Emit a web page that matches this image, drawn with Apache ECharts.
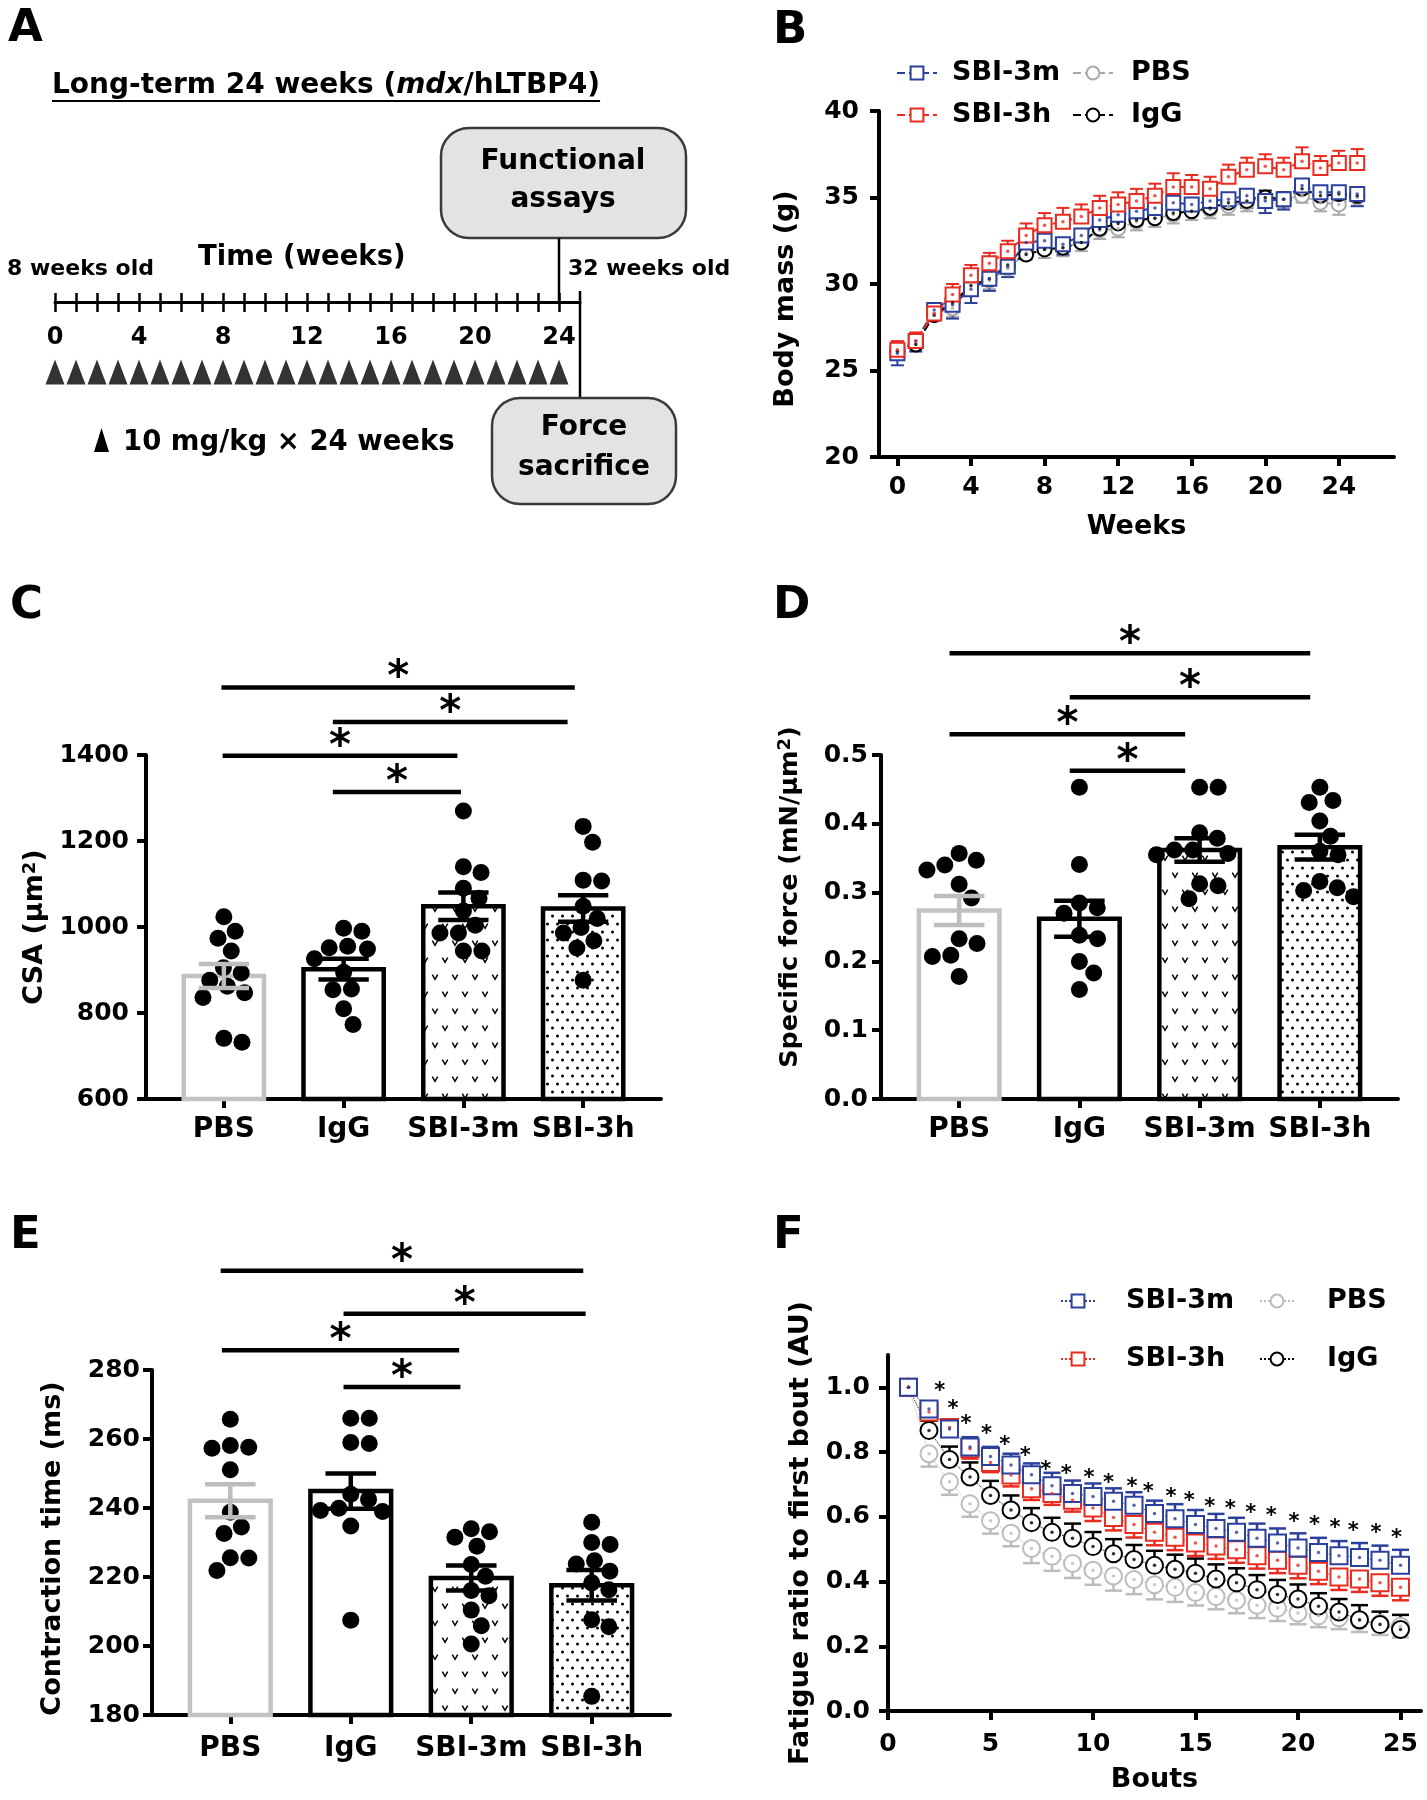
<!DOCTYPE html>
<html><head><meta charset="utf-8">
<script src="https://cdn.jsdelivr.net/npm/echarts@6/dist/echarts.min.js"></script>
<style>html,body{margin:0;padding:0;background:#fff}#c{width:1427px;height:1800px}</style>
</head><body><div id="c"></div>
<script>
const FONT = '"DejaVu Sans", "Liberation Sans", Arial, sans-serif';

// ---------- Panel A (timeline) ----------
const timelineTicks = [0,1,2,3,4,5,6,7,8,9,10,11,12,13,14,15,16,17,18,19,20,21,22,23,24];
const timelineLabels = [0,4,8,12,16,20,24];
const doseWeeks = [0,1,2,3,4,5,6,7,8,9,10,11,12,13,14,15,16,17,18,19,20,21,22,23,24];

// ---------- Panel B (body mass) ----------
const bWeeks = [0,1,2,3,4,5,6,7,8,9,10,11,12,13,14,15,16,17,18,19,20,21,22,23,24,25];
const bTicks = [0,4,8,12,16,20,24];
const bSBI3m = [26.0,26.7,28.5,28.8,29.7,30.3,31.0,32.4,32.5,32.3,32.8,33.7,34.0,34.2,34.4,34.7,34.6,34.8,34.9,35.1,34.8,34.9,35.7,35.3,35.3,35.2];
const bSBI3mSem = [0.7,0.6,0.6,0.8,0.8,0.7,0.6,0.6,0.6,0.6,0.6,0.6,0.6,0.6,0.6,0.7,0.6,0.6,0.6,0.7,0.7,0.6,0.6,0.6,0.7,0.7];
const bSBI3h = [26.2,26.7,28.3,29.4,30.5,31.2,31.9,32.8,33.4,33.6,33.9,34.4,34.6,34.8,35.1,35.6,35.6,35.5,36.2,36.6,36.8,36.6,37.1,36.7,37.0,37.0];
const bSBI3hSem = [0.5,0.5,0.5,0.6,0.6,0.6,0.6,0.7,0.7,0.8,0.7,0.7,0.7,0.7,0.7,0.8,0.7,0.7,0.7,0.7,0.7,0.7,0.8,0.7,0.7,0.8];
const bPBS = [26.1,26.6,28.3,28.6,30.0,30.2,30.9,31.8,32.0,32.1,32.4,33.1,33.2,33.6,33.8,34.0,34.2,34.3,34.5,34.7,34.9,34.9,35.1,34.7,34.6,35.0];
const bPBSSem = [0.5,0.5,0.4,0.5,0.4,0.5,0.5,0.4,0.5,0.5,0.5,0.5,0.5,0.5,0.5,0.5,0.5,0.5,0.5,0.5,0.5,0.5,0.4,0.5,0.6,0.5];
const bIgG = [26.1,26.5,28.2,28.9,29.9,30.3,31.1,31.7,32.0,32.1,32.4,33.2,33.5,33.7,33.8,34.1,34.2,34.4,34.7,34.8,35.0,34.9,35.5,35.1,35.2,35.1];
const bIgGSem = [0.4,0.4,0.3,0.4,0.4,0.4,0.4,0.4,0.4,0.3,0.4,0.4,0.4,0.4,0.4,0.4,0.4,0.4,0.4,0.4,0.4,0.4,0.5,0.4,0.4,0.4];

// ---------- Bar panels ----------
const barCats = ['PBS','IgG','SBI-3m','SBI-3h'];
const barPos = [0,1,2,3];

const cPBS = [1024,990,974,944,905,893,876,862,847,836,741,732];
const cIgG = [997,990,955,952,949,926,895,856,854,810,773];
const cSBI3m = [1270,1140,1127,1090,1067,1037,1004,986,986,944,944];
const cSBI3h = [1234,1197,1109,1107,1048,1020,999,986,968,951,876];
const cMeans = [886,902,1048,1043];
const cSems = [28,24,32,31];
const cSig = [[-0.02,2.93,1557],[0.91,2.87,1477],[-0.01,1.95,1398],[0.91,1.98,1314]];

const dPBS = [0.357,0.347,0.340,0.333,0.312,0.292,0.233,0.226,0.209,0.207,0.178];
const dIgG = [0.453,0.341,0.285,0.278,0.270,0.238,0.233,0.200,0.183,0.159];
const dSBI3m = [0.453,0.453,0.387,0.379,0.362,0.362,0.357,0.355,0.313,0.310,0.291];
const dSBI3h = [0.453,0.434,0.431,0.404,0.382,0.360,0.355,0.316,0.307,0.303,0.294];
const dMeans = [0.274,0.262,0.362,0.366];
const dSems = [0.021,0.026,0.017,0.018];
const dSig = [[-0.08,2.92,0.648],[0.92,2.92,0.584],[-0.08,1.88,0.530],[0.92,1.88,0.477]];

const ePBS = [265.7,258.1,257.6,257.3,251.1,238.8,234.5,232.6,225.6,225.5,221.9];
const eIgG = [266.0,266.0,259.0,258.7,244.0,242.5,239.9,239.3,239.0,234.8,207.5];
const eSBI3m = [234.0,233.1,231.5,228.9,223.6,220.2,216.1,214.6,210.4,205.9,200.6];
const eSBI3h = [235.9,230.0,229.4,224.7,223.8,221.7,218.3,216.3,207.6,205.6,185.4];
const eMeans = [242.1,244.9,219.7,217.6];
const eSems = [4.8,5.1,3.6,4.4];
const eSig = [[-0.08,2.93,308.8],[0.94,2.95,296.3],[-0.07,1.9,285.7],[0.94,1.91,275.1]];

// ---------- Panel F (fatigue) ----------
const fBouts = [1,2,3,4,5,6,7,8,9,10,11,12,13,14,15,16,17,18,19,20,21,22,23,24,25];
const fTicks = [0,5,10,15,20,25];
const fYTicks = [0,0.2,0.4,0.6,0.8,1.0];
const fSBI3m = [1.0,0.933,0.871,0.816,0.786,0.760,0.730,0.696,0.672,0.663,0.648,0.636,0.610,0.594,0.576,0.564,0.552,0.534,0.519,0.504,0.490,0.480,0.474,0.466,0.450];
const fSBI3mSem = [0,0.02,0.025,0.03,0.03,0.035,0.035,0.04,0.04,0.04,0.04,0.04,0.04,0.045,0.045,0.045,0.045,0.045,0.045,0.045,0.045,0.045,0.045,0.045,0.048];
const fSBI3h = [1.0,0.924,0.876,0.810,0.768,0.729,0.687,0.672,0.651,0.627,0.598,0.576,0.552,0.537,0.519,0.510,0.498,0.480,0.466,0.450,0.432,0.414,0.408,0.396,0.382];
const fSBI3hSem = [0,0.02,0.025,0.03,0.03,0.035,0.035,0.035,0.035,0.04,0.04,0.04,0.04,0.04,0.04,0.04,0.04,0.04,0.04,0.04,0.04,0.04,0.04,0.04,0.04];
const fIgG = [1.0,0.867,0.777,0.723,0.666,0.621,0.582,0.552,0.534,0.508,0.486,0.468,0.450,0.438,0.426,0.408,0.396,0.375,0.360,0.346,0.324,0.306,0.282,0.267,0.252];
const fIgGSem = [0,0.03,0.04,0.045,0.045,0.045,0.045,0.045,0.045,0.045,0.045,0.045,0.045,0.045,0.045,0.045,0.045,0.045,0.045,0.045,0.04,0.04,0.045,0.04,0.045];
const fPBS = [1.0,0.795,0.708,0.640,0.588,0.549,0.502,0.478,0.456,0.435,0.417,0.406,0.390,0.382,0.366,0.354,0.342,0.327,0.318,0.303,0.294,0.288,0.279,0.270,0.262];
const fPBSSem = [0,0.04,0.04,0.04,0.04,0.04,0.045,0.045,0.045,0.045,0.045,0.045,0.045,0.045,0.04,0.04,0.04,0.04,0.04,0.035,0.035,0.035,0.035,0.035,0.035];
const fStarX = [2.53,3.17,3.8,4.8,5.7,6.7,7.7,8.7,9.8,10.76,11.9,12.7,13.8,14.7,15.7,16.7,17.7,18.7,19.8,20.8,21.8,22.7,23.8,24.8];
const fStarY = [1.0,0.945,0.897,0.868,0.834,0.798,0.756,0.744,0.732,0.714,0.702,0.688,0.672,0.660,0.640,0.636,0.622,0.612,0.594,0.585,0.576,0.568,0.561,0.546];

// ---------- colours ----------
const C_BLUE = '#2b3f9c', C_RED = '#ea2b1f', C_GRAY = '#a9a9a9', C_FGRAY = '#bcbcbc', C_BLACK = '#000';

// ---------- patterns ----------
function makeV(){
  const c=document.createElement('canvas'); c.width=20; c.height=34;
  const x=c.getContext('2d'); x.fillStyle='#fff'; x.fillRect(0,0,20,34);
  x.strokeStyle='#000'; x.lineWidth=1.5;
  function v(cx,cy){x.beginPath(); x.moveTo(cx-2.7,cy-2.3); x.lineTo(cx,cy+2.3); x.lineTo(cx+2.7,cy-2.3); x.stroke();}
  v(5,8); v(15,25); return c;
}
function makeDots(){
  const c=document.createElement('canvas'); c.width=10; c.height=16;
  const x=c.getContext('2d'); x.fillStyle='#fff'; x.fillRect(0,0,10,16);
  x.fillStyle='#000';
  [[2.5,4],[7.5,12]].forEach(p=>{x.beginPath(); x.arc(p[0],p[1],1.5,0,Math.PI*2); x.fill();});
  return c;
}
const PAT_V = {image: makeV(), repeat:'repeat'};
const PAT_D = {image: makeDots(), repeat:'repeat'};
const barFill = ['#fff','#fff',PAT_V,PAT_D];
const barStroke = ['#c2c2c2','#000','#000','#000'];
const errColor = ['#bdbdbd','#000','#000','#000'];

// ---------- helpers ----------
const NUM_FS = 25, CAT_FS = 28, NAME_FS = 27;
function axisBase(){
  return {
    axisLine:{show:true,onZero:false,lineStyle:{color:'#000',width:4}},
    axisTick:{show:true,length:9,lineStyle:{color:'#000',width:4}},
    axisLabel:{color:'#000',fontSize:NUM_FS,fontWeight:'bold',fontFamily:FONT},
    splitLine:{show:false},
    nameTextStyle:{color:'#000',fontSize:NAME_FS,fontWeight:'bold',fontFamily:FONT}
  };
}
function merge(a,b){ const o=Object.assign({},a); for(const k in b){ if(b[k]&&typeof b[k]==='object'&&!Array.isArray(b[k])&&a[k]&&typeof a[k]==='object') o[k]=Object.assign({},a[k],b[k]); else o[k]=b[k]; } return o; }

const DOT_D = 17, BAR_W = 0.67, CAP_W = 0.42;
const swarmCache = {};
function swarm(vals, ppu, d){
  const idx = vals.map((v,i)=>i).sort((a,b)=>vals[b]-vals[a]);
  const placed=[], off=new Array(vals.length);
  for(const i of idx){
    const y = vals[i]*ppu;
    const cands=[0];
    for(const p of placed){ const dy=Math.abs(p.y-y); if(dy<d){ const dx=Math.sqrt(d*d-dy*dy); cands.push(p.x+dx,p.x-dx);} }
    cands.sort((a,b)=>Math.abs(a)-Math.abs(b) || b-a);
    let best=0;
    for(const c of cands){ if(placed.every(p=>(p.x-c)*(p.x-c)+(p.y-y)*(p.y-y) >= d*d-0.01)){best=c;break;} }
    placed.push({x:best,y}); off[i]=best;
  }
  return off;
}
function barSeries(xi, yi, means, yMin){
  return {type:'custom', xAxisIndex:xi, yAxisIndex:yi, z:2, clip:false, silent:true,
    data: means.map((m,i)=>[barPos[i],m]),
    renderItem(p, api){
      const i=api.value(0), m=api.value(1);
      const top=api.coord([i,m]), base=api.coord([i,yMin]);
      const w=api.size([BAR_W,0])[0];
      return {type:'rect', shape:{x:top[0]-w/2, y:top[1], width:w, height:base[1]-top[1]},
        style:{fill:barFill[i], stroke:barStroke[i], lineWidth:4.5}};
    }};
}
function dotSeries(xi, yi, groups, key){
  const data=[]; groups.forEach((vals,g)=>vals.forEach((v,k)=>data.push([barPos[g],v,k])));
  return {type:'custom', xAxisIndex:xi, yAxisIndex:yi, z:3, clip:false, silent:true, data,
    renderItem(p, api){
      const g=api.value(0), v=api.value(1), k=api.value(2);
      const ck=key+'_'+g;
      if(!swarmCache[ck]){ const ppu=Math.abs(api.size([0,1])[1]); swarmCache[ck]=swarm(groups[g], ppu, DOT_D+1.5); }
      const c=api.coord([g,v]);
      return {type:'circle', shape:{cx:c[0]+swarmCache[ck][k], cy:c[1], r:DOT_D/2}, style:{fill:'#000'}};
    }};
}
function barErrSeries(xi, yi, means, sems){
  return {type:'custom', xAxisIndex:xi, yAxisIndex:yi, z:4, clip:false, silent:true,
    data: means.map((m,i)=>[barPos[i],m,sems[i]]),
    renderItem(p, api){
      const i=api.value(0), m=api.value(1), s=api.value(2);
      const hi=api.coord([i,m+s]), lo=api.coord([i,m-s]);
      const hw=api.size([CAP_W,0])[0]/2;
      const st={stroke:errColor[i], lineWidth:4.5};
      return {type:'group', children:[
        {type:'line', shape:{x1:hi[0],y1:hi[1],x2:lo[0],y2:lo[1]}, style:st},
        {type:'line', shape:{x1:hi[0]-hw,y1:hi[1],x2:hi[0]+hw,y2:hi[1]}, style:st},
        {type:'line', shape:{x1:lo[0]-hw,y1:lo[1],x2:lo[0]+hw,y2:lo[1]}, style:st}
      ]};
    }};
}
function sigSeries(xi, yi, lines){
  return {type:'custom', xAxisIndex:xi, yAxisIndex:yi, z:5, clip:false, silent:true, data: lines,
    renderItem(p, api){
      const a=api.coord([api.value(0),api.value(2)]), b=api.coord([api.value(1),api.value(2)]);
      return {type:'group', children:[
        {type:'line', shape:{x1:a[0],y1:a[1],x2:b[0],y2:b[1]}, style:{stroke:'#000',lineWidth:4.5}},
        {type:'text', style:{x:(a[0]+b[0])/2, y:a[1]-8, text:'*', font:'bold 42px '+FONT, fill:'#000', align:'center', verticalAlign:'middle'}}
      ]};
    }};
}
function lineErr(xi, yi, xs, means, sems, dir, color, capW, lw){
  return {type:'custom', xAxisIndex:xi, yAxisIndex:yi, z:2, clip:false, silent:true,
    data: xs.map((x,i)=>[x,means[i],sems[i]]),
    renderItem(p, api){
      const x=api.value(0), m=api.value(1), s=api.value(2);
      if(!s) return {type:'group', children:[]};
      const c=api.coord([x,m]), e=api.coord([x,m+dir*s]);
      const st={stroke:color,lineWidth:lw};
      return {type:'group', children:[
        {type:'line', shape:{x1:c[0],y1:c[1],x2:e[0],y2:e[1]}, style:st},
        {type:'line', shape:{x1:e[0]-capW/2,y1:e[1],x2:e[0]+capW/2,y2:e[1]}, style:st}
      ]};
    }};
}
function lineSeries(name, xi, yi, xs, means, color, symbol, size, ltype, lw, z){
  return {type:'line', name, xAxisIndex:xi, yAxisIndex:yi, z, silent:true,
    data: xs.map((x,i)=>[x,means[i]]), symbol, symbolSize:size, showSymbol:true,
    lineStyle:{color, width:lw, type:ltype}, itemStyle:{color, borderColor:color, borderWidth:2.5}};
}
function centerDots(xi, yi, xs, means, color, z){
  return {type:'scatter', xAxisIndex:xi, yAxisIndex:yi, z, silent:true, symbol:'circle', symbolSize:3.5,
    data: xs.map((x,i)=>[x,means[i]]), itemStyle:{color}};
}
function leg(name, left, cy, w, padL){
  return {data:[name], left, top:cy-15, orient:'horizontal', itemWidth:w, itemHeight:16, selectedMode:false, padding:0,
    textStyle:{fontSize:27, fontWeight:'bold', fontFamily:FONT, color:'#000', lineHeight:30, padding:[0,0,0,padL]},
    formatter: n=>n.replace(/^[BF]:/,'')};
}

// ---------- option ----------
const catLabel = {customValues:barPos, formatter:v=>barCats[Math.round(v)], margin:17, fontSize:CAT_FS};
const catTick = {customValues:barPos};
const supRich = {sup:{fontSize:18,fontWeight:'bold',fontFamily:FONT,verticalAlign:'top',padding:[0,0,10,0]}};

const xAxes = [
  {gridIndex:0, type:'value', min:0, max:25, position:'bottom', offset:0,
   axisLine:{show:true,onZero:false,lineStyle:{color:'#000',width:3}},
   axisTick:{show:true,length:10,customValues:timelineTicks,lineStyle:{color:'#000',width:2.5}},
   axisLabel:{show:true,customValues:timelineLabels,color:'#000',fontSize:24,fontWeight:'bold',fontFamily:FONT,margin:24},
   splitLine:{show:false}},
  {gridIndex:0, type:'value', min:0, max:25, position:'bottom', offset:0,
   axisLine:{show:false}, axisLabel:{show:false},
   axisTick:{show:true,inside:true,length:9,customValues:timelineTicks,lineStyle:{color:'#000',width:2.5}},
   splitLine:{show:false}},
  merge(axisBase(), {gridIndex:1, type:'value', min:-1, max:27, name:'Weeks', nameLocation:'middle', nameGap:56,
   axisTick:{customValues:bTicks}, axisLabel:{customValues:bTicks, margin:18}}),
  merge(axisBase(), {gridIndex:2, type:'value', min:-0.65, max:3.65, axisTick:catTick, axisLabel:catLabel}),
  merge(axisBase(), {gridIndex:3, type:'value', min:-0.65, max:3.65, axisTick:catTick, axisLabel:catLabel}),
  merge(axisBase(), {gridIndex:4, type:'value', min:-0.65, max:3.65, axisTick:catTick, axisLabel:Object.assign({},catLabel,{margin:20})}),
  merge(axisBase(), {gridIndex:5, type:'value', min:0, max:26, name:'Bouts', nameLocation:'middle', nameGap:55,
   axisTick:{customValues:fTicks}, axisLabel:{customValues:fTicks, margin:21}})
];
const yAxes = [
  {gridIndex:0, type:'value', min:0, max:1, show:false},
  merge(axisBase(), {gridIndex:1, type:'value', min:20, max:40, interval:5, name:'Body mass (g)', nameLocation:'middle', nameGap:80,
   axisLabel:{margin:20},
   nameTextStyle:{color:'#000',fontSize:NAME_FS,fontWeight:'bold',fontFamily:FONT,padding:[0,30,0,0]}}),
  merge(axisBase(), {gridIndex:2, type:'value', min:600, max:1400, interval:200, name:'CSA (µm{sup|2})', nameLocation:'middle', nameGap:97,
   axisLabel:{margin:17, formatter:v=>String(v)},
   nameTextStyle:{color:'#000',fontSize:NAME_FS,fontWeight:'bold',fontFamily:FONT,rich:supRich}}),
  merge(axisBase(), {gridIndex:3, type:'value', min:0, max:0.5, interval:0.1, name:'Specific force (mN/µm{sup|2})', nameLocation:'middle', nameGap:77,
   axisLabel:{margin:13, formatter:v=>v.toFixed(1)},
   nameTextStyle:{color:'#000',fontSize:25.5,fontWeight:'bold',fontFamily:FONT,padding:[0,0,0,60],rich:supRich}}),
  merge(axisBase(), {gridIndex:4, type:'value', min:180, max:280, interval:20, name:'Contraction time (ms)', nameLocation:'middle', nameGap:86,
   axisLabel:{margin:12, formatter:v=>String(v)},
   nameTextStyle:{color:'#000',fontSize:NAME_FS,fontWeight:'bold',fontFamily:FONT,padding:[0,12,0,0]}}),
  merge(axisBase(), {gridIndex:5, type:'value', min:0, max:1.1, name:'Fatigue ratio to first bout (AU)', nameLocation:'middle', nameGap:74,
   axisTick:{customValues:fYTicks}, axisLabel:{customValues:fYTicks, margin:18, formatter:v=>v.toFixed(1)}})
];

const series = [
  {type:'scatter', xAxisIndex:0, yAxisIndex:0, silent:true, symbol:'triangle', symbolSize:[19,25], symbolOffset:[0,70],
   data: doseWeeks.map(w=>[w,0]), itemStyle:{color:'#000'}},
  lineErr(2,1,bWeeks,bPBS,bPBSSem,-1,C_GRAY,13,2),
  lineErr(2,1,bWeeks,bIgG,bIgGSem,1,C_BLACK,13,2),
  lineErr(2,1,bWeeks,bSBI3m,bSBI3mSem,-1,C_BLUE,13,2),
  lineErr(2,1,bWeeks,bSBI3h,bSBI3hSem,1,C_RED,13,2),
  lineSeries('B:PBS',2,1,bWeeks,bPBS,C_GRAY,'emptyCircle',14,'dashed',2,3),
  lineSeries('B:IgG',2,1,bWeeks,bIgG,C_BLACK,'emptyCircle',14,'dashed',2,3),
  lineSeries('B:SBI-3m',2,1,bWeeks,bSBI3m,C_BLUE,'emptyRect',14,'dashed',2,3),
  lineSeries('B:SBI-3h',2,1,bWeeks,bSBI3h,C_RED,'emptyRect',14,'dashed',2,3),
  centerDots(2,1,bWeeks,bPBS,C_GRAY,4), centerDots(2,1,bWeeks,bIgG,C_BLACK,4),
  centerDots(2,1,bWeeks,bSBI3m,C_BLUE,4), centerDots(2,1,bWeeks,bSBI3h,C_RED,4),
  barSeries(3,2,cMeans,600), dotSeries(3,2,[cPBS,cIgG,cSBI3m,cSBI3h],'C'), barErrSeries(3,2,cMeans,cSems), sigSeries(3,2,cSig),
  barSeries(4,3,dMeans,0), dotSeries(4,3,[dPBS,dIgG,dSBI3m,dSBI3h],'D'), barErrSeries(4,3,dMeans,dSems), sigSeries(4,3,dSig),
  barSeries(5,4,eMeans,180), dotSeries(5,4,[ePBS,eIgG,eSBI3m,eSBI3h],'E'), barErrSeries(5,4,eMeans,eSems), sigSeries(5,4,eSig),
  lineErr(6,5,fBouts,fPBS,fPBSSem,-1,C_FGRAY,17,2.5),
  lineErr(6,5,fBouts,fIgG,fIgGSem,1,C_BLACK,17,2.5),
  lineErr(6,5,fBouts,fSBI3h,fSBI3hSem,-1,C_RED,17,2.5),
  lineErr(6,5,fBouts,fSBI3m,fSBI3mSem,1,C_BLUE,17,2.5),
  lineSeries('F:PBS',6,5,fBouts,fPBS,C_FGRAY,'emptyCircle',17,'dotted',1,3),
  lineSeries('F:IgG',6,5,fBouts,fIgG,C_BLACK,'emptyCircle',17,'dotted',1,3),
  lineSeries('F:SBI-3h',6,5,fBouts,fSBI3h,C_RED,'emptyRect',17,'dotted',1,3),
  lineSeries('F:SBI-3m',6,5,fBouts,fSBI3m,C_BLUE,'emptyRect',17,'dotted',1,3),
  centerDots(6,5,fBouts,fPBS,C_FGRAY,4), centerDots(6,5,fBouts,fIgG,C_BLACK,4),
  centerDots(6,5,fBouts,fSBI3h,C_RED,4), centerDots(6,5,fBouts,fSBI3m,C_BLUE,4),
  {type:'custom', xAxisIndex:6, yAxisIndex:5, z:5, clip:false, silent:true,
   data: fStarX.map((x,i)=>[x,fStarY[i]]),
   renderItem(p, api){ const c=api.coord([api.value(0),api.value(1)]);
     return {type:'text', style:{x:c[0], y:c[1]+4, text:'*', font:'bold 21px '+FONT, fill:'#000', align:'center', verticalAlign:'middle'}}; }}
];

// ---------- graphic (panel letters + diagram A) ----------
const mctx = document.createElement('canvas').getContext('2d');
mctx.font = 'bold 28px '+FONT;
let tw = mctx.measureText('Long-term 24 weeks (').width + mctx.measureText('/hLTBP4)').width;
mctx.font = 'italic bold 28px '+FONT;
tw += mctx.measureText('mdx').width;

function T(text, x, y, size, align){
  return {type:'text', silent:true, style:{text, x, y, font:'bold '+size+'px '+FONT, fill:'#000', align:align||'left', verticalAlign:'middle'}};
}
const BOX = {fill:'#e3e3e3', stroke:'#3a3a3a', lineWidth:2.5};
const graphicEls = [
  T('A',8,29,45), T('B',773,31,45), T('C',10,606,45), T('D',773,606,45), T('E',10,1236,45), T('F',773,1236,45),
  {type:'text', silent:true, style:{text:'Long-term 24 weeks ({i|mdx}/hLTBP4)', x:52, y:86, font:'bold 28px '+FONT, fill:'#000', align:'left', verticalAlign:'middle',
    rich:{i:{fontStyle:'italic', fontWeight:'bold', fontSize:28, fontFamily:FONT, fill:'#000'}}}},
  {type:'line', silent:true, shape:{x1:52, y1:101, x2:52+tw, y2:101}, style:{stroke:'#000', lineWidth:2}},
  {type:'rect', silent:true, shape:{x:441, y:128, width:245, height:110, r:28}, style:BOX},
  T('Functional',563,162,28,'center'), T('assays',563,200,28,'center'),
  {type:'line', silent:true, shape:{x1:559, y1:238, x2:559, y2:302}, style:{stroke:'#000', lineWidth:2.5}},
  {type:'line', silent:true, shape:{x1:580, y1:291, x2:580, y2:398}, style:{stroke:'#000', lineWidth:2.5}},
  T('8 weeks old',7,269,22), T('Time (weeks)',198,258,27.5), T('32 weeks old',568,269,22),
  {type:'rect', silent:true, shape:{x:492, y:398, width:184, height:106, r:28}, style:BOX},
  T('Force',584,428,28,'center'), T('sacrifice',584,468,28,'center'),
  {type:'polygon', silent:true, shape:{points:[[101.5,428],[94,452],[109,452]]}, style:{fill:'#000'}},
  T('10 mg/kg × 24 weeks',123,443,27.5)
];

const option = {
  animation:false,
  backgroundColor:'#fff',
  textStyle:{fontFamily:FONT},
  grid:[
    {left:55, top:200, width:525, height:102},
    {left:879, top:111, width:515, height:346},
    {left:146, top:755, width:515, height:344},
    {left:881, top:755, width:517, height:344},
    {left:152, top:1370, width:518, height:345},
    {left:888, top:1355, width:533, height:356}
  ],
  xAxis:xAxes, yAxis:yAxes, series,
  legend:[
    leg('B:SBI-3m',896,73,40,10), leg('B:PBS',1072,73,40,13), leg('B:SBI-3h',896,115,40,10), leg('B:IgG',1072,115,40,13),
    leg('F:SBI-3m',1060,1301,34,26), leg('F:PBS',1259,1301,34,28), leg('F:SBI-3h',1060,1359,34,26), leg('F:IgG',1259,1359,34,28)
  ],
  graphic:{elements:graphicEls}
};
const chart = echarts.init(document.getElementById('c'), null, {renderer:'canvas', width:1427, height:1800});
chart.setOption(option);
</script></body></html>
